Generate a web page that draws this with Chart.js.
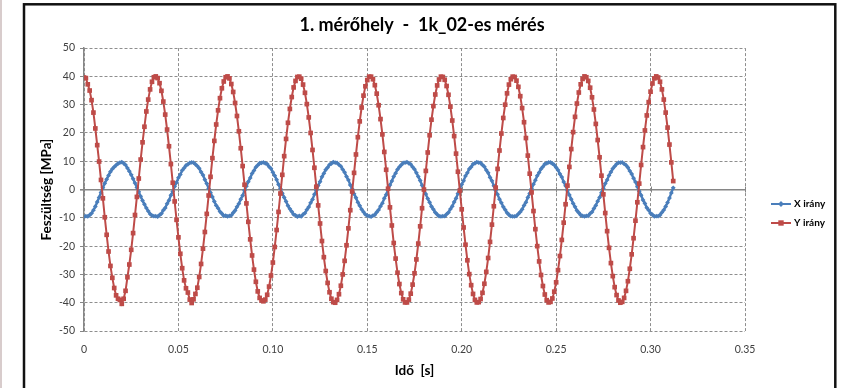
<!DOCTYPE html>
<html>
<head>
<meta charset="utf-8">
<title>1. mérőhely - 1k_02-es mérés</title>
<script src="https://cdn.jsdelivr.net/npm/chart.js@4.4.1/dist/chart.umd.min.js"></script>
<style>
  html, body { margin: 0; padding: 0; background: #fff; }
</style>
</head>
<body>
<canvas id="chartMeres" width="844" height="388"></canvas>
<script>
// mintavételi idő [s] (1 kHz)
const mintaIdo = 0.001;

const cim = "1. mérőhely  -  1k_02-es mérés";
const sorozatNevek = ["X irány", "Y irány"];

// X irány [MPa]
const xIrany = [
  -9.6, -9.4, -9.5, -9.0, -8.4, -7.3, -6.0, -4.4, -2.8, -1.0, 0.6, 2.2, 3.6, 5.0, 6.3, 7.3, 8.0, 8.6, 9.2, 9.5, 9.7, 9.3, 8.7, 7.6, 6.5, 5.2, 3.8, 2.3, 0.7, -0.8, -2.4, -3.9, -5.2, -6.5, -7.6, -8.6, -9.2, -9.4,
  -9.4, -9.6, -9.0, -8.5, -7.3, -6.5, -5.0, -3.8, -2.0, -0.7, 1.1, 2.5, 4.2, 5.3, 6.8, 7.6, 8.5, 8.9, 9.4, 9.6, 9.5, 8.9, 8.3, 7.5, 6.2, 5.1, 3.5, 2.1, 0.4, -1.1, -2.6, -4.2, -5.6, -6.6, -7.8, -8.5, -9.3, -9.2,
  -9.5, -9.3, -9.1, -8.2, -7.4, -6.1, -5.0, -3.4, -2.1, -0.3, 1.2, 2.8, 4.1, 5.7, 6.7, 7.9, 8.6, 9.3, 9.4, 9.6, 9.3, 9.0, 8.1, 7.4, 6.1, 4.9, 3.5, 1.8, 0.4, -1.3, -2.8, -4.2, -5.7, -6.8, -7.8, -8.8, -9.1, -9.6,
  -9.3, -9.5, -8.8, -8.3, -7.1, -6.2, -4.7, -3.5, -1.7, -0.3, 1.4, 2.8, 4.5, 5.7, 7.0, 7.8, 8.8, 9.2, 9.7, 9.5, 9.4, 8.8, 8.2, 7.1, 6.1, 4.6, 3.4, 1.6, 0.2, -1.5, -2.9, -4.5, -5.7, -7.0, -7.9, -8.8, -9.2, -9.4,
  -9.6, -9.2, -8.9, -8.0, -7.2, -5.9, -4.8, -3.1, -1.8, 0.0, 1.6, 3.0, 4.6, 5.8, 7.1, 8.0, 8.7, 9.4, 9.5, 9.7, 9.3, 8.9, 8.0, 7.2, 5.9, 4.6, 3.2, 1.5, 0.1, -1.6, -3.2, -4.5, -6.0, -7.0, -8.1, -8.8, -9.4, -9.5,
  -9.4, -9.4, -8.7, -8.1, -6.9, -5.9, -4.4, -3.1, -1.4, 0.2, 1.8, 3.1, 4.8, 5.9, 7.3, 8.0, 9.0, 9.3, 9.7, 9.5, 9.4, 8.7, 8.1, 6.9, 5.9, 4.3, 3.1, 1.3, -0.3, -1.7, -3.4, -4.7, -6.1, -7.1, -8.2, -8.9, -9.4, -9.5,
  -9.5, -9.3, -8.6, -7.9, -7.0, -5.6, -4.5, -2.8, -1.4, 0.3, 1.9, 3.3, 4.9, 6.0, 7.3, 8.1, 9.0, 9.3, 9.6, 9.6, 9.2, 8.7, 7.8, 6.9, 5.5, 4.4, 2.7, 1.3, -0.4, -1.9, -3.4, -4.9, -6.1, -7.4, -8.2, -9.0, -9.3, -9.5,
  -9.3, -9.3, -8.5, -7.9, -6.7, -5.6, -4.1, -2.8, -1.1, 0.4, 2.1, 3.4, 5.0, 6.2, 7.4, 8.2, 9.0, 9.5, 9.5, 9.6, 9.1, 8.6, 7.8, 6.6, 5.5, 4.0, 2.7, 1.0, -0.6, -2.0, -3.7, -4.9, -6.4, -7.3, -8.4, -8.9, -9.5, -9.4,
  -9.4, -9.0, -8.1, -7.2, -6.0, -4.6, -3.0, -1.2, 0.6
];

// Y irány [MPa]
const yIrany = [
  39.6, 39.4, 37.2, 35.0, 31.6, 27.2, 21.6, 15.7, 9.9, 3.4, -3.1, -9.8, -16.0, -21.9, -27.0, -31.2, -34.8, -37.4, -38.6, -39.0, -40.4, -38.6, -35.8, -31.0, -26.5, -21.3, -15.4, -9.0, -2.6, 3.9, 10.6, 16.7, 22.2, 27.6, 31.8, 35.4, 38.1, 39.7,
  40.0, 39.4, 37.6, 34.9, 31.1, 26.5, 21.2, 15.3, 9.0, 2.4, -4.2, -10.7, -16.9, -22.7, -27.8, -32.1, -34.9, -36.4, -38.9, -40.1, -38.8, -36.9, -34.7, -30.9, -26.3, -20.9, -15.0, -8.6, -2.1, 4.5, 11.1, 17.2, 23.0, 28.0, 32.3, 35.8, 38.2, 39.7,
  40.0, 39.3, 37.3, 34.5, 30.6, 26.0, 20.6, 14.6, 8.3, 1.7, -4.9, -11.4, -17.6, -23.3, -28.3, -32.6, -36.0, -38.3, -39.2, -39.5, -38.9, -37.2, -34.3, -30.4, -25.8, -20.3, -14.3, -7.9, -1.4, 5.2, 11.8, 17.9, 23.6, 28.5, 32.7, 36.1, 38.4, 39.8,
  39.9, 39.2, 37.1, 34.2, 30.2, 25.5, 20.0, 14.0, 7.7, 1.0, -5.6, -12.0, -18.2, -23.9, -28.8, -33.0, -36.3, -38.6, -39.8, -40.0, -39.0, -37.0, -34.0, -30.0, -25.2, -19.7, -13.7, -7.3, -0.7, 5.9, 12.4, 18.5, 24.1, 29.0, 33.2, 36.5, 38.7, 39.9,
  39.9, 39.0, 36.9, 33.9, 29.8, 24.9, 19.5, 13.3, 7.0, 0.3, -6.3, -12.7, -18.9, -24.4, -29.4, -33.4, -36.6, -38.8, -39.9, -39.9, -38.9, -36.8, -33.6, -29.6, -24.7, -19.1, -13.0, -6.6, 0.0, 6.6, 13.1, 19.2, 24.7, 29.5, 33.6, 36.8, 38.9, 39.9,
  39.8, 38.8, 36.6, 33.5, 29.3, 24.4, 18.9, 12.7, 6.3, -0.4, -7.0, -13.4, -19.5, -25.0, -29.9, -33.8, -36.9, -39.0, -39.9, -39.8, -38.7, -36.5, -33.3, -29.1, -24.2, -18.5, -12.4, -5.9, 0.7, 7.3, 13.8, 19.8, 25.3, 30.0, 34.0, 37.1, 39.0, 39.9,
  39.8, 38.5, 36.3, 33.0, 28.8, 23.8, 18.2, 12.0, 5.6, -1.0, -7.6, -14.0, -20.0, -25.4, -30.2, -34.1, -37.1, -39.1, -39.9, -39.7, -38.5, -36.1, -32.8, -28.5, -23.5, -17.8, -11.7, -5.2, 1.4, 8.0, 14.3, 20.3, 25.7, 30.4, 34.3, 37.2, 39.1, 40.0,
  39.7, 38.4, 36.0, 32.6, 28.3, 23.2, 17.5, 11.4, 4.9, -1.7, -8.3, -14.7, -20.6, -26.0, -30.6, -34.5, -37.3, -39.2, -40.0, -39.7, -38.3, -35.8, -32.4, -28.0, -22.9, -17.2, -11.0, -4.5, 2.1, 8.7, 15.0, 20.9, 26.2, 30.9, 34.6, 37.5, 39.3, 40.0,
  39.6, 38.1, 35.4, 31.8, 27.2, 21.9, 15.9, 9.6, 3.0
];

// tengely feliratok
const xTicks = [0, 0.05, 0.1, 0.15, 0.2, 0.25, 0.3, 0.35];
const yTicks = [-50, -40, -30, -20, -10, 0, 10, 20, 30, 40, 50];

const betu = 'Lato, "Liberation Sans", sans-serif';
Chart.defaults.font.family = betu;

// idő-érték párok
function pontok(ertekek) {
  return ertekek.map((v, i) => ({ x: +(i * mintaIdo).toFixed(3), y: v }));
}

// excel-szerű keret, tengelyjelek, jelmagyarázat
const excelKeret = {
  id: 'excelKeret',
  beforeDraw(chart) {
    const ctx = chart.ctx;
    ctx.save();
    ctx.fillStyle = '#fff';
    ctx.fillRect(0, 0, chart.width, chart.height);
    ctx.fillStyle = '#d8cccc';
    ctx.fillRect(0, 0, 2, chart.height);
    ctx.strokeStyle = '#111';
    ctx.lineWidth = 2.5;
    ctx.strokeRect(24, 4.3, 811.3, chart.height + 20);
    ctx.restore();
  },
  beforeDatasetsDraw(chart) {
    // kis jelek a nulla vonalon
    const ctx = chart.ctx;
    const sx = chart.scales.x, sy = chart.scales.y;
    const y0 = sy.getPixelForValue(0);
    ctx.save();
    ctx.strokeStyle = '#868686';
    ctx.lineWidth = 1;
    xTicks.forEach(t => {
      const px = Math.round(sx.getPixelForValue(t)) + 0.5;
      ctx.beginPath();
      ctx.moveTo(px, y0 - 3);
      ctx.lineTo(px, y0 + 3);
      ctx.stroke();
    });
    ctx.restore();
  },
  afterDraw(chart) {
    const ctx = chart.ctx;
    ctx.save();
    chart.data.datasets.forEach((ds, i) => {
      const y = 204 + i * 19;
      ctx.strokeStyle = ds.borderColor;
      ctx.lineWidth = 2;
      ctx.beginPath();
      ctx.moveTo(771, y);
      ctx.lineTo(791, y);
      ctx.stroke();
      ctx.fillStyle = ds.backgroundColor;
      Chart.helpers.drawPoint(ctx, { pointStyle: ds.pointStyle, radius: ds.pointRadius + 0.5, borderWidth: 0, rotation: 0 }, 781, y);
      ctx.fillStyle = '#000';
      ctx.font = 'bold 10px ' + betu;
      ctx.textBaseline = 'middle';
      ctx.textAlign = 'left';
      ctx.fillText(ds.label, 794, y);
    });
    ctx.restore();
  }
};

const szurke = '#868686';
const racs = '#8e8e8e';

new Chart(document.getElementById('chartMeres'), {
  type: 'scatter',
  data: {
    datasets: [
      {
        label: sorozatNevek[0],
        data: pontok(xIrany),
        showLine: true,
        borderColor: '#4a7ebb',
        backgroundColor: '#4a7ebb',
        borderWidth: 2.4,
        pointStyle: 'rectRot',
        pointRadius: 2.4,
        pointBorderWidth: 0,
        tension: 0,
        order: 2
      },
      {
        label: sorozatNevek[1],
        data: pontok(yIrany),
        showLine: true,
        borderColor: '#be4b48',
        backgroundColor: '#be4b48',
        borderWidth: 2,
        pointStyle: 'rect',
        pointRadius: 3.3,
        pointBorderWidth: 0,
        tension: 0,
        order: 1
      }
    ]
  },
  options: {
    responsive: false,
    animation: false,
    layout: { padding: 0 },
    plugins: {
      legend: { display: false },
      tooltip: { enabled: false },
      title: {
        display: true,
        text: cim,
        color: '#000',
        font: { size: 18, weight: 'bold' },
        padding: { top: 14.5, bottom: 12 }
      }
    },
    scales: {
      x: {
        type: 'linear',
        min: xTicks[0],
        max: xTicks[xTicks.length - 1],
        afterFit: s => { s.height = 57; },
        ticks: {
          stepSize: xTicks[1] - xTicks[0],
          color: '#404040',
          font: { size: 10.5 },
          padding: 12
        },
        grid: { color: racs, lineWidth: 1, drawTicks: false },
        border: { display: false, dash: [3, 2] },
        title: {
          display: true,
          text: 'Idő  [s]',
          color: '#000',
          font: { size: 13.5, weight: 'bold' },
          padding: { top: 0, bottom: 9 }
        }
      },
      y: {
        min: yTicks[0],
        max: yTicks[yTicks.length - 1],
        afterFit: s => { s.width = 84; },
        ticks: {
          stepSize: yTicks[1] - yTicks[0],
          color: '#404040',
          font: { size: 10.5 },
          padding: 5
        },
        grid: {
          color: c => (c.tick && c.tick.value === 0 ? szurke : racs),
          lineWidth: c => (c.tick && c.tick.value === 0 ? 1.6 : 1),
          tickColor: szurke,
          tickLength: 4
        },
        border: {
          display: true,
          color: szurke,
          width: 1.5,
          dash: c => (c.tick && c.tick.value === 0 ? [] : [3, 2])
        },
        title: {
          display: true,
          text: 'Feszültség [MPa]',
          color: '#000',
          font: { size: 13.5, weight: 'bold' },
          padding: { top: 39, bottom: 0 }
        }
      },
      jobb: {
        type: 'linear',
        position: 'right',
        afterFit: s => { s.width = 99; },
        ticks: { display: false },
        grid: { display: false, drawTicks: false },
        border: { display: false }
      }
    }
  },
  plugins: [excelKeret]
});
</script>
</body>
</html>
